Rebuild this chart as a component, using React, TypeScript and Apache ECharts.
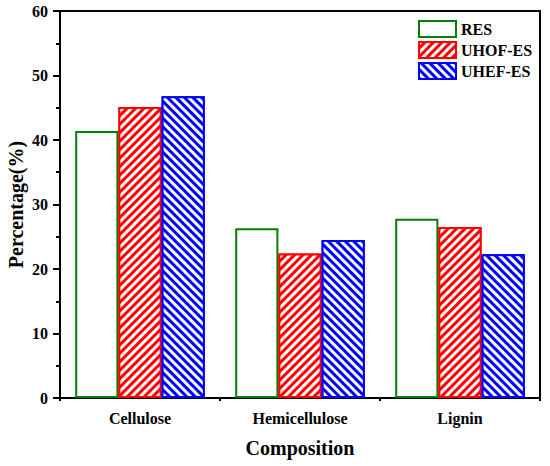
import React, { useEffect, useRef } from "react";
import * as echarts from "echarts";

const categories = ["Cellulose", "Hemicellulose", "Lignin"];
const resValues = [41.4, 26.3, 27.8];
const uhofValues = [45.1, 22.4, 26.5];
const uhefValues = [46.8, 24.5, 22.3];
const yTicks = { min: 0, max: 60, interval: 10, minorInterval: 5 };

const FONT = "'Liberation Serif', 'Times New Roman', serif";

export default function App() {
  const ref = useRef<HTMLDivElement>(null);
  useEffect(() => {
    document.body.style.margin = "0";
    const chart = echarts.init(ref.current!, null, { renderer: "svg" });
    const stripe = (rot: number) => ({
      symbol: "rect",
      symbolSize: 1,
      color: "#ffffff",
      dashArrayX: [1, 0],
      dashArrayY: [2.6, 2.6],
      rotation: rot,
    });
    const txt = (size: number) => ({ fontFamily: FONT, fontWeight: "bold", fontSize: size, color: "#000" });
    const gridTop = 11;
    const gridBottom = 68;
    const gridLeft = 60;
    const gridRight = 10;
    const gridH = 466 - gridTop - gridBottom;
    const gridW = 550 - gridLeft - gridRight;
    chart.setOption({
      animation: false,
      grid: {
        left: gridLeft,
        top: gridTop,
        right: gridRight,
        bottom: gridBottom,
        containLabel: false,
        outerBoundsMode: "none",
        show: true,
        borderColor: "#000",
        borderWidth: 2,
        backgroundColor: "transparent",
      },
      legend: {
        orient: "vertical",
        left: 413,
        top: 15,
        icon: "rect",
        itemWidth: 37,
        itemHeight: 16,
        itemGap: 3,
        textStyle: txt(16),
        data: ["RES", "UHOF-ES", "UHEF-ES"],
      },
      xAxis: [
        {
          type: "category",
          data: categories,
          position: "bottom",
          name: "Composition",
          nameLocation: "middle",
          nameGap: 40,
          nameMoveOverlap: false,
          nameTextStyle: txt(20),
          axisLine: { lineStyle: { color: "#000", width: 2 } },
          axisTick: { alignWithLabel: true, length: 6, lineStyle: { width: 2, color: "#000" } },
          axisLabel: { margin: 12, ...txt(16) },
        },
        {
          type: "category",
          data: categories,
          position: "top",
          offset: -gridH,
          axisLine: { show: false },
          axisTick: { show: true, inside: true, length: 3, lineStyle: { width: 2, color: "#000" } },
          axisLabel: { show: false },
          splitLine: { show: false },
        },
      ],
      yAxis: [
        {
          type: "value",
          position: "left",
          min: yTicks.min,
          max: yTicks.max,
          interval: yTicks.interval,
          name: "Percentage(%)",
          nameLocation: "middle",
          nameGap: 34,
          nameMoveOverlap: false,
          nameTextStyle: txt(20),
          axisLine: { show: true, lineStyle: { color: "#000", width: 2 } },
          axisTick: { show: true, length: 7, lineStyle: { width: 2, color: "#000" } },
          splitLine: { show: false },
          axisLabel: { margin: 12, ...txt(16) },
        },
        {
          type: "value",
          position: "right",
          offset: -gridW,
          min: yTicks.min,
          max: yTicks.max,
          interval: yTicks.minorInterval,
          axisLine: { show: false },
          axisTick: { show: true, inside: true, length: 4, lineStyle: { width: 2, color: "#000" } },
          splitLine: { show: false },
          axisLabel: { show: false },
        },
      ],
      series: [
        {
          name: "RES",
          type: "bar",
          data: resValues,
          barGap: "0%",
          barCategoryGap: "19%",
          itemStyle: { color: "#ffffff", borderColor: "#008000", borderWidth: 2 },
        },
        {
          name: "UHOF-ES",
          type: "bar",
          data: uhofValues,
          itemStyle: { color: "#ff0000", borderColor: "#ff0000", borderWidth: 2, decal: stripe(-Math.PI / 4) },
        },
        {
          name: "UHEF-ES",
          type: "bar",
          data: uhefValues,
          itemStyle: { color: "#0000ff", borderColor: "#0000ff", borderWidth: 2, decal: stripe(Math.PI / 4) },
        },
      ],
    });
    return () => chart.dispose();
  }, []);
  return <div ref={ref} style={{ width: 550, height: 466 }} />;
}
